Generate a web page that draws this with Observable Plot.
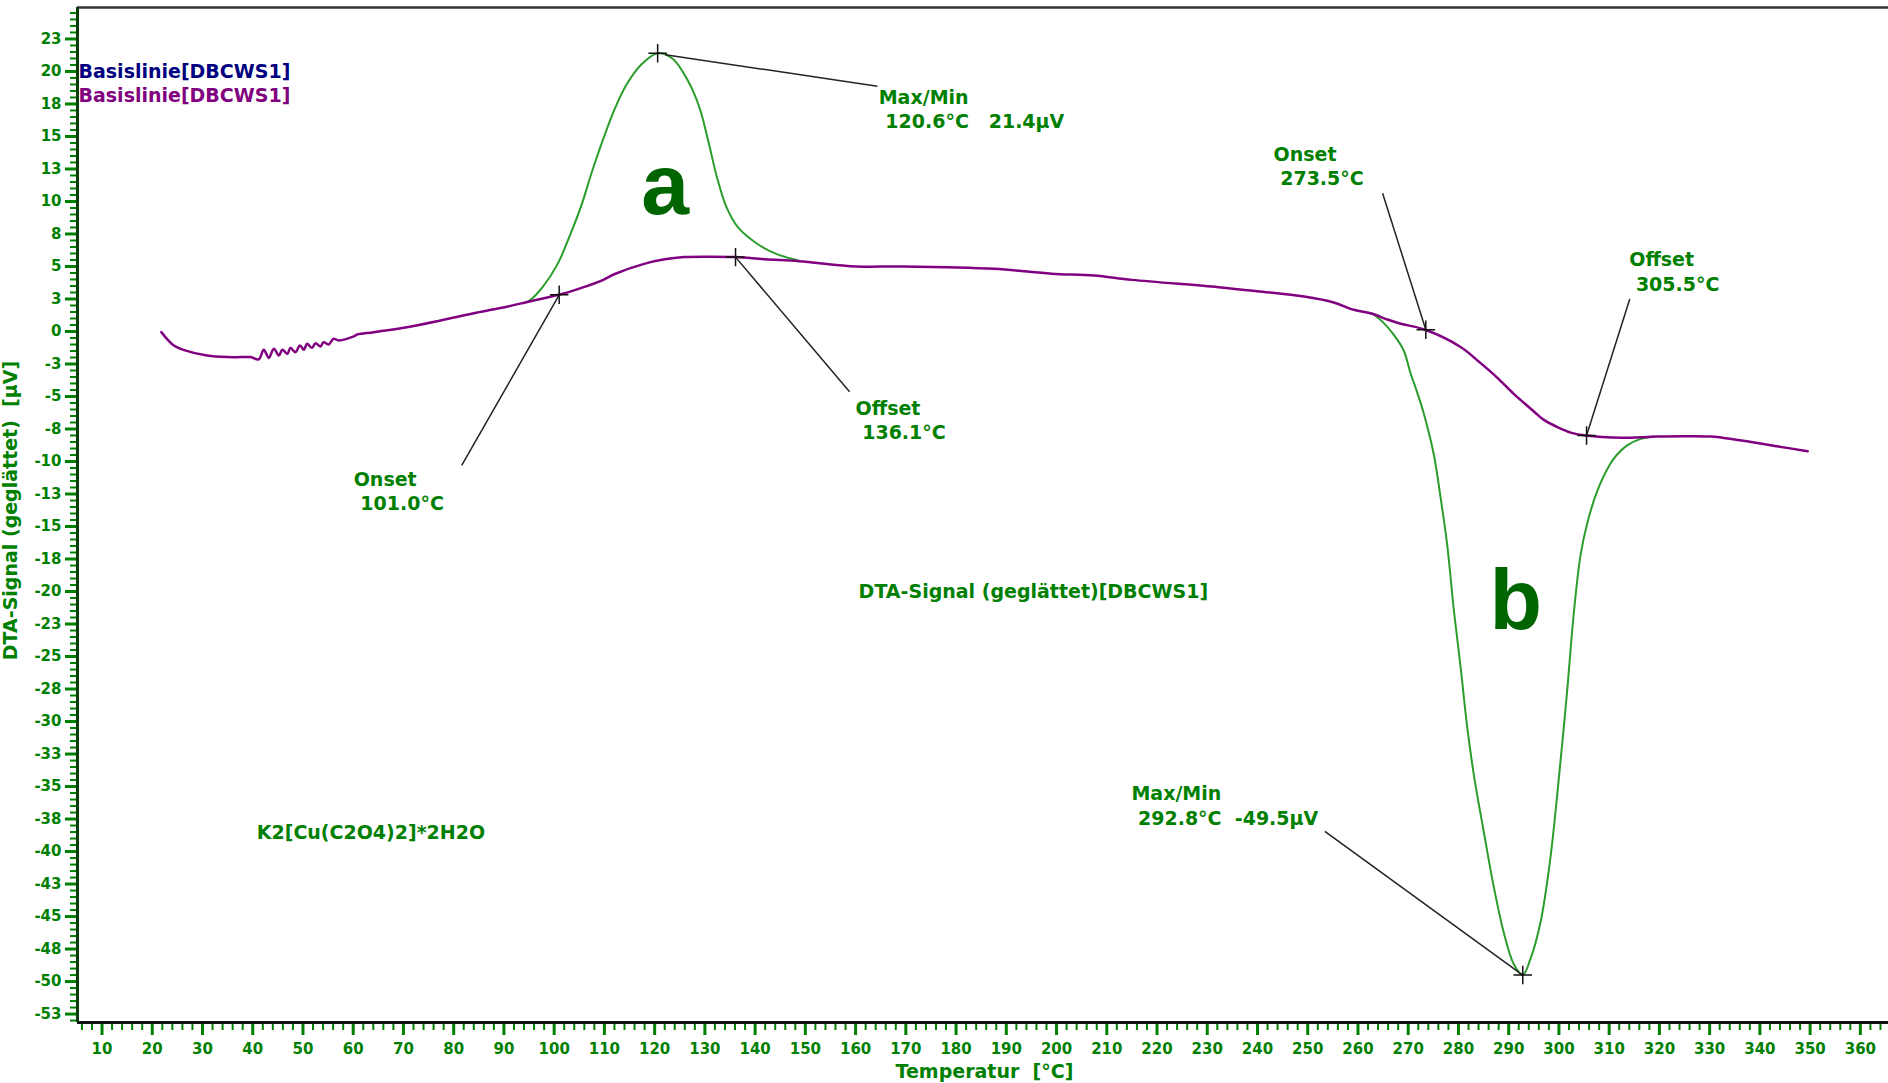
<!DOCTYPE html>
<html>
<head>
<meta charset="utf-8">
<script src="https://cdn.jsdelivr.net/npm/d3@7"></script>
<script src="https://cdn.jsdelivr.net/npm/@observablehq/plot@0.6"></script>
<style>
  html, body { margin: 0; padding: 0; background: #fff; }
  svg text { white-space: pre; }
</style>
</head>
<body>
<div id="chart"></div>
<script>
// ---- data ----
// Baseline (Basislinie) curve, purple
const baseT = [21.8, 23.0, 24.3, 26.5, 30.9, 35.0, 37.6, 39.6, 41.2, 42.2, 43.2, 44.2, 45.2, 45.9, 46.9, 47.5, 48.5, 49.4, 50.2, 50.8, 51.8, 52.5, 53.5, 54.1, 55.1, 56.1, 57.1, 60.1, 60.8, 64.1, 70.7, 77.4, 84.0, 89.3, 95.3, 100.9, 105.0, 109.2, 112.2, 117.9, 122.0, 125.9, 131.0, 136.2, 142.0, 148.7, 160.2, 169.3, 187.6, 199.0, 207.4, 215.0, 232.2, 240.0, 249.3, 255.0, 259.2, 262.8, 266.0, 268.5, 273.4, 280.5, 284.0, 287.6, 291.0, 294.8, 297.0, 299.7, 302.5, 305.4, 308.5, 312.5, 319.6, 325.0, 330.3, 334.0, 337.4, 343.0, 349.5];
const baseV = [-0.05, -0.6, -1.08, -1.45, -1.85, -1.97, -1.97, -1.97, -2.15, -1.41, -2.03, -1.33, -1.85, -1.41, -1.72, -1.26, -1.59, -1.08, -1.41, -0.95, -1.26, -0.90, -1.15, -0.82, -1.0, -0.56, -0.69, -0.38, -0.23, -0.05, 0.33, 0.85, 1.41, 1.8, 2.33, 2.82, 3.3, 3.87, 4.44, 5.2, 5.55, 5.72, 5.75, 5.72, 5.55, 5.41, 5.0, 5.0, 4.82, 4.44, 4.3, 3.97, 3.41, 3.1, 2.69, 2.25, 1.67, 1.36, 0.9, 0.6, 0.13, -1.21, -2.3, -3.51, -4.8, -6.08, -6.8, -7.36, -7.8, -8.0, -8.12, -8.18, -8.08, -8.05, -8.08, -8.25, -8.44, -8.8, -9.21];

// DTA signal, peak a (green)
const peakAT = [94.5, 95.5, 97.7, 100.7, 103.0, 105.3, 107.6, 109.9, 112.2, 114.5, 117.5, 120.6, 123.6, 126.6, 128.9, 130.8, 132.4, 134.3, 136.6, 140.4, 144.2, 148.7];
const peakAV = [2.25, 2.5, 3.41, 5.2, 7.26, 9.56, 12.38, 14.95, 17.25, 19.05, 20.59, 21.4, 20.98, 19.3, 17.25, 14.44, 11.87, 9.56, 8.0, 6.75, 5.97, 5.45];

// DTA signal, peak b (green)
const peakBT = [262.8, 265.0, 267.1, 269.1, 270.4, 271.8, 273.1, 275.1, 276.4, 277.8, 279.1, 280.5, 281.7, 283.1, 285.0, 287.0, 289.0, 291.0, 292.8, 294.3, 296.3, 298.3, 300.3, 301.6, 303.0, 304.3, 305.6, 307.6, 310.2, 311.5, 313.5, 316.0, 318.9];
const peakBV = [1.4, 0.7, -0.24, -1.46, -3.13, -4.7, -6.31, -9.48, -12.66, -16.54, -21.5, -26.07, -30.3, -34.2, -38.4, -42.65, -46.2, -48.65, -49.5, -48.3, -45.5, -40.5, -33.1, -27.8, -21.5, -17.2, -14.8, -12.3, -10.2, -9.5, -8.78, -8.3, -8.08];

// characteristic points (cross markers)
const markT = [120.6, 101.0, 136.1, 273.5, 305.5, 292.8];
const markV = [21.4, 2.82, 5.72, 0.13, -8.0, -49.5];

// axis ticks and labels
const xTicks = [10, 20, 30, 40, 50, 60, 70, 80, 90, 100, 110, 120, 130, 140, 150, 160, 170, 180, 190, 200, 210, 220, 230, 240, 250, 260, 270, 280, 290, 300, 310, 320, 330, 340, 350, 360];
const xTickLabels = ["10", "20", "30", "40", "50", "60", "70", "80", "90", "100", "110", "120", "130", "140", "150", "160", "170", "180", "190", "200", "210", "220", "230", "240", "250", "260", "270", "280", "290", "300", "310", "320", "330", "340", "350", "360"];
const yTicks = [22.5, 20, 17.5, 15, 12.5, 10, 7.5, 5, 2.5, 0, -2.5, -5, -7.5, -10, -12.5, -15, -17.5, -20, -22.5, -25, -27.5, -30, -32.5, -35, -37.5, -40, -42.5, -45, -47.5, -50, -52.5];
const yTickLabels = ["23", "20", "18", "15", "13", "10", "8", "5", "3", "0", "-3", "-5", "-8", "-10", "-13", "-15", "-18", "-20", "-23", "-25", "-28", "-30", "-33", "-35", "-38", "-40", "-43", "-45", "-48", "-50", "-53"];
const xDomain = [5.12, 365.6];
const yDomain = [-53.15, 24.92];

// annotation texts (anchored at data coordinates: temperature, signal)
const annoText = ["Max/Min", " 120.6°C   21.4µV", "Onset", " 101.0°C", "Offset", " 136.1°C", "Onset", " 273.5°C", "Offset", " 305.5°C", "Max/Min", " 292.8°C  -49.5µV", "DTA-Signal (geglättet)[DBCWS1]", "K2[Cu(C2O4)2]*2H2O"];
const annoT = [164.6, 164.6, 60.1, 60.1, 160.0, 160.0, 243.2, 243.2, 314.0, 314.0, 214.9, 214.9, 160.6, 40.8];
const annoV = [17.96, 16.1, -11.38, -13.23, -5.92, -7.77, 13.6, 11.77, 5.54, 3.62, -35.54, -37.46, -20.0, -38.6];

// leader lines: from label to point
const leadT1 = [164.35, 81.6, 158.8, 264.9, 314.1, 253.4];
const leadV1 = [18.87, -10.3, -4.64, 10.64, 2.5, -38.45];
const leadT2 = [122.1, 101.0, 136.1, 273.5, 305.5, 292.8];
const leadV2 = [21.28, 2.82, 5.72, 0.13, -8.0, -49.5];

const letters = ["a", "b"];
const letterT = [122.1, 291.4];
const letterV = [9.05, -22.9];

const legendText = ["Basislinie[DBCWS1]", "Basislinie[DBCWS1]"];
const legendColor = ["#000080", "#800080"];
const legendT = [5.32, 5.32];
const legendV = [20.0, 18.15];

const xTitle = "Temperatur  [°C]";
const yTitle = "DTA-Signal (geglättet)  [µV]";

// ---- build tables ----
const base = baseT.map((t, i) => ({t, v: baseV[i]}));
const peakA = peakAT.map((t, i) => ({t, v: peakAV[i]}));
const peakB = peakBT.map((t, i) => ({t, v: peakBV[i]}));
const marks = markT.map((t, i) => ({t, v: markV[i]}));
const annos = annoText.map((s, i) => ({s, t: annoT[i], v: annoV[i]}));
const leads = leadT1.map((t, i) => ({t1: t, v1: leadV1[i], t2: leadT2[i], v2: leadV2[i]}));
const lets = letters.map((s, i) => ({s, t: letterT[i], v: letterV[i]}));
const legend = legendText.map((s, i) => ({s, c: legendColor[i], t: legendT[i], v: legendV[i]}));

const xMinor = d3.range(6, 366, 2).filter(d => d % 10 !== 0);
const yMinor = d3.range(-53, 25, 0.5).filter(d => Math.abs((d / 2.5) - Math.round(d / 2.5)) > 1e-6);

const GREEN = "#008000";
const FONT = "DejaVu Sans";

const chart = Plot.plot({
  width: 1888,
  height: 1083,
  marginLeft: 77,
  marginRight: 0,
  marginTop: 7,
  marginBottom: 61,
  x: {domain: xDomain},
  y: {domain: yDomain},
  style: {fontFamily: FONT, background: "#fff"},
  marks: [
    // minor ticks
    Plot.axisY({ticks: yMinor, tickSize: 7, tickFormat: () => "", stroke: GREEN, strokeWidth: 2, label: null}),
    Plot.axisX({ticks: xMinor, tickSize: 8, tickFormat: () => "", stroke: GREEN, strokeWidth: 2, label: null}),
    // major ticks with labels
    Plot.axisY({ticks: yTicks, tickSize: 12, tickPadding: 4, tickFormat: d => yTickLabels[yTicks.indexOf(d)],
      color: GREEN, strokeWidth: 3, fontSize: 15, fontWeight: "bold", fontFamily: FONT, label: null}),
    Plot.axisX({ticks: xTicks, tickSize: 13, tickPadding: 8, tickFormat: d => xTickLabels[xTicks.indexOf(d)],
      color: GREEN, strokeWidth: 3, fontSize: 15, fontWeight: "bold", fontFamily: FONT, label: null}),
    // frame lines
    Plot.ruleY([yDomain[1]], {stroke: "#333", strokeWidth: 2.5}),
    Plot.ruleY([yDomain[0]], {stroke: "#111", strokeWidth: 3}),
    Plot.ruleX([xDomain[0]], {stroke: "#0b3d0b", strokeWidth: 3}),
    // curves
    Plot.line(peakA, {x: "t", y: "v", stroke: "#2a9d2a", strokeWidth: 2, curve: "catmull-rom"}),
    Plot.line(peakB, {x: "t", y: "v", stroke: "#2a9d2a", strokeWidth: 2, curve: "catmull-rom"}),
    Plot.line(base, {x: "t", y: "v", stroke: "#800080", strokeWidth: 2.5, curve: "catmull-rom"}),
    // leader lines
    Plot.link(leads, {x1: "t1", y1: "v1", x2: "t2", y2: "v2", stroke: "#222", strokeWidth: 1.5}),
    Plot.dot(marks, {x: "t", y: "v", symbol: "plus", r: 6, stroke: "#111", strokeWidth: 1.5}),
    // annotations
    Plot.text(annos, {x: "t", y: "v", text: "s", textAnchor: "start", fill: GREEN, fontSize: 19, fontWeight: "bold", fontFamily: FONT}),
    Plot.text(lets, {x: "t", y: "v", text: "s", lineAnchor: "bottom", fill: "#006400", fontSize: 86, fontWeight: "bold", fontFamily: "Liberation Sans"}),
    Plot.text(legend, {x: "t", y: "v", text: "s", textAnchor: "start", fill: d => d.c, fontSize: 19, fontWeight: "bold", fontFamily: FONT}),
    // axis titles
    Plot.text([xTitle], {x: 185.65, frameAnchor: "bottom", lineAnchor: "middle", textAnchor: "middle", dy: 49, text: d => d, fill: GREEN, fontSize: 19, fontWeight: "bold", fontFamily: FONT}),
    Plot.text([yTitle], {y: -13.77, frameAnchor: "left", textAnchor: "middle", lineAnchor: "middle", dx: -67, rotate: -90, text: d => d, fill: GREEN, fontSize: 19, fontWeight: "bold", fontFamily: FONT})
  ]
});
document.getElementById("chart").appendChild(chart);
</script>
</body>
</html>
